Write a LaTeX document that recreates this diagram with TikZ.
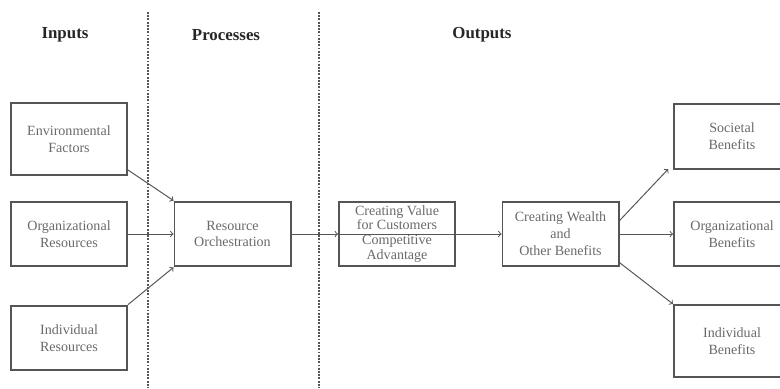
\documentclass[tikz,border=0pt]{standalone}
\usepackage{fontspec}
\setmainfont{Liberation Serif}
\usepackage{tikz}
\usetikzlibrary{positioning}

\definecolor{boxgray}{HTML}{555555}
\definecolor{txtgray}{HTML}{6A6A6A}

\tikzset{
  box/.style={draw=boxgray,line width=1.4pt,minimum width=2.9cm,minimum height=1.62cm,
    align=center,text=txtgray,font=\fontsize{10}{12}\selectfont,inner sep=1pt},
  arr/.style={draw=boxgray,line width=0.7pt,->},
  sep/.style={draw=boxgray,line width=1.3pt,densely dotted},
  head/.style={font=\fontsize{12}{14}\selectfont\bfseries,text=black!85}
}

\begin{document}
\begin{tikzpicture}[x=0.025cm,y=-0.025cm]
            \useasboundingbox (0,0) rectangle (780,388);
            \clip (0,0) rectangle (780,388);

            \coordinate (s1top) at (148,12);
            \coordinate (s1bot) at (148,388);
            \coordinate (s2top) at (319,12);
            \coordinate (s2bot) at (319,388);
            \draw[sep](s1top)--(s1bot);
            \draw[sep](s2top)--(s2bot);

            \node[head] (inputs) at (65,35) {Inputs};
            \node[head] (processes) at (226,35) {Processes};
            \node[head] (outputs) at (482,35) {Outputs};

            \node[box,minimum height=1.8cm] (env) at (69,139) {Environmental\\Factors};
            \node[box] (orgres) at (69,234) {Organizational\\Resources};
            \node[box] (indres) at (69,338) {Individual\\Resources};

            \node[box] (orch) at (232.5,234) {Resource\\Orchestration};

            \node[box,font=\fontsize{10}{10.6}\selectfont] (value) at (397,234)
                {Creating Value\\for Customers\\Competitive\\Advantage};
            \node[box] (wealth) at (560.5,234) {Creating Wealth\\and\\Other Benefits};

            \node[box] (soc) at (732,136.5) {Societal\\Benefits};
            \node[box] (orgben) at (732,234) {Organizational\\Benefits};
            \node[box,minimum height=1.8cm] (indben) at (732,341) {Individual\\Benefits};

            \draw[arr]([yshift=0.15cm]env.south east)--(orch.north west);
            \draw[arr](orgres)--(orch);
            \draw[arr](indres.north east)--(orch.south west);

            \draw[arr](orch)--(value);
            \draw[arr](value.west)--(wealth);

            \draw[arr]([yshift=-0.5cm]wealth.north east)--([shift={(-0.12cm,0.02cm)}]soc.south west);
            \draw[arr](wealth)--(orgben);
            \draw[arr]([yshift=0.12cm]wealth.south east)--(indben.north west);

        \end{tikzpicture}
\end{document}
